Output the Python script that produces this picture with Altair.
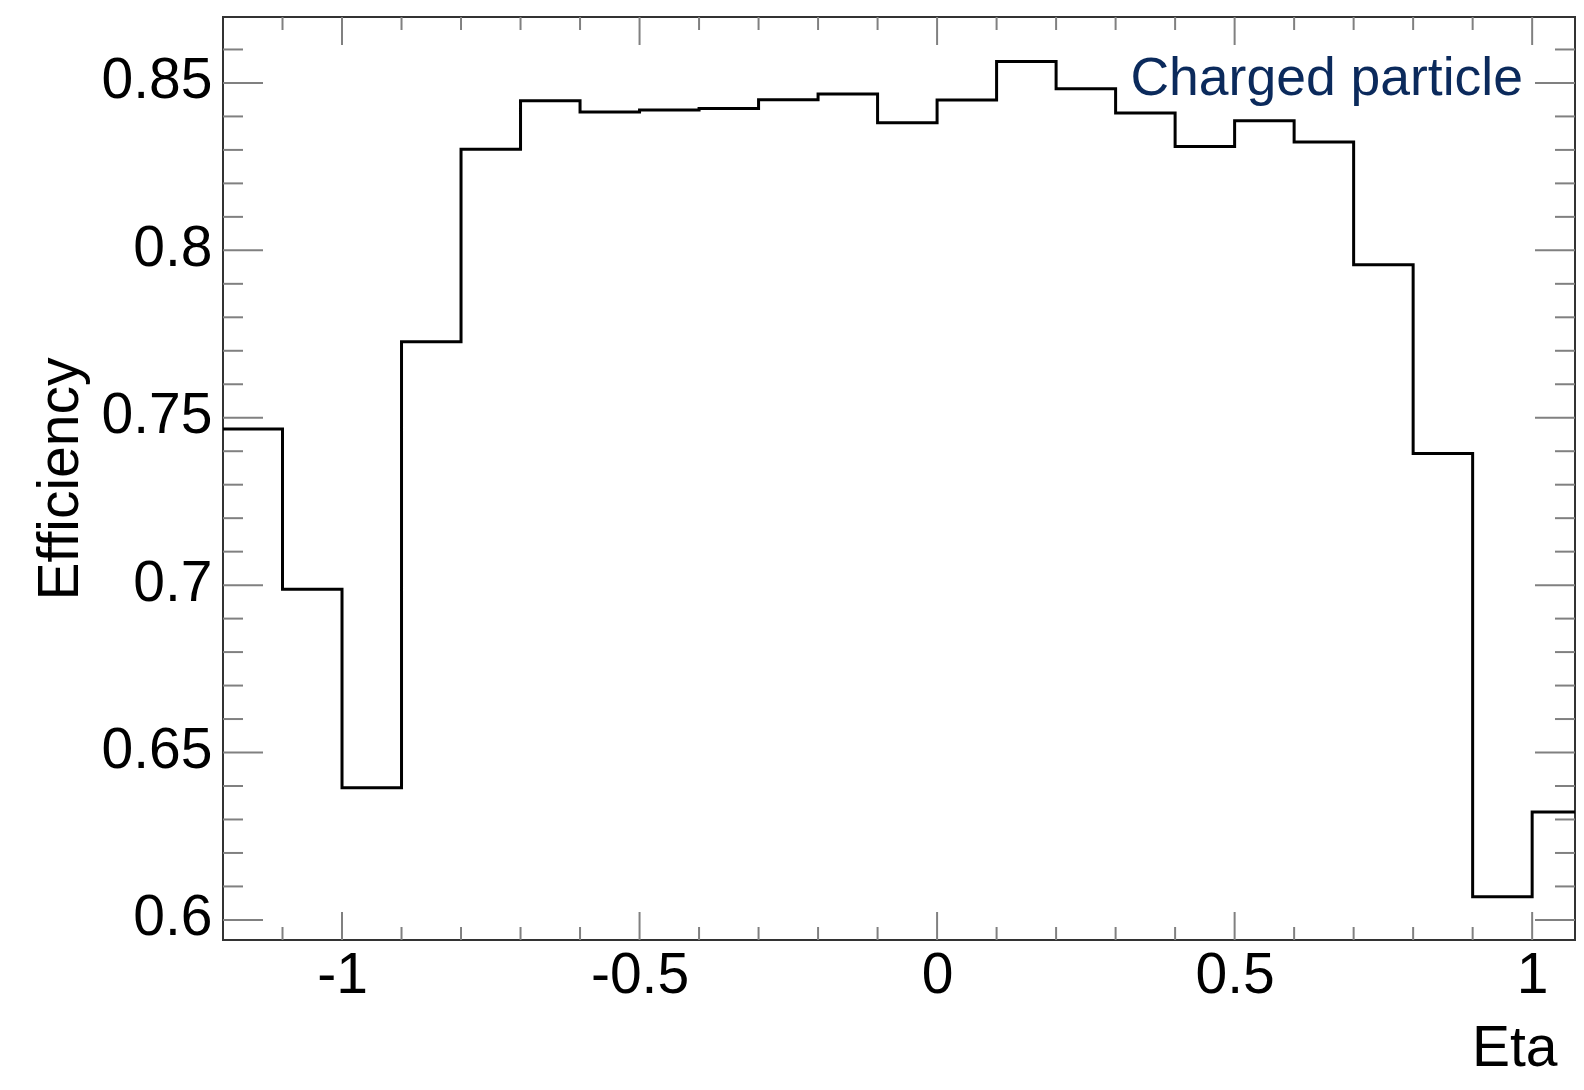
import altair as alt
import pandas as pd

# ---- data ----
bin_low = [-1.2, -1.1, -1.0, -0.9, -0.8, -0.7, -0.6, -0.5, -0.4, -0.3, -0.2, -0.1,
           0.0, 0.1, 0.2, 0.3, 0.4, 0.5, 0.6, 0.7, 0.8, 0.9, 1.0]
efficiency = [0.7466, 0.6988, 0.6395, 0.7727, 0.8302, 0.8447, 0.8413, 0.8419,
              0.8424, 0.8450, 0.8467, 0.8381, 0.8449, 0.8564, 0.8483, 0.8410,
              0.8310, 0.8387, 0.8324, 0.7957, 0.7393, 0.6069, 0.6322]
bin_width = 0.1

x_major_ticks = [-1.0, -0.5, 0.0, 0.5, 1.0]
x_minor_ticks = [-1.1, -0.9, -0.8, -0.7, -0.6, -0.4, -0.3, -0.2, -0.1,
                 0.1, 0.2, 0.3, 0.4, 0.6, 0.7, 0.8, 0.9]
y_major_ticks = [0.6, 0.65, 0.7, 0.75, 0.8, 0.85]
y_minor_ticks = [0.61, 0.62, 0.63, 0.64, 0.66, 0.67, 0.68, 0.69,
                 0.71, 0.72, 0.73, 0.74, 0.76, 0.77, 0.78, 0.79,
                 0.81, 0.82, 0.83, 0.84, 0.86]

x_domain = [-1.2, 1.072]
y_domain = [0.594, 0.8697]

legend_text = "Charged particle"
x_title = "Eta"
y_title = "Efficiency"

# ---- layout / style ----
W, H = 1352, 923
FONT = "Liberation Sans"
TICK = "#808080"

step_x = bin_low + [round(bin_low[-1] + bin_width, 3)]
step_y = efficiency + [efficiency[-1]]
hist_df = pd.DataFrame({"eta": step_x, "eff": step_y})

xs = alt.Scale(domain=x_domain, nice=False, zero=False)
ys = alt.Scale(domain=y_domain, nice=False, zero=False)

x_axis = alt.Axis(values=x_major_ticks, labelExpr="datum.value + ''", ticks=False, tickSize=0,
                  domain=False, grid=False, labelFontSize=57, labelColor="black",
                  labelBaseline="alphabetic", labelPadding=52, labelFlush=False,
                  labelOverlap=False, title=x_title, titleFontSize=57,
                  titleFontWeight="normal", titleColor="black", titleX=1334, titleY=125,
                  titleAlign="right", titleBaseline="alphabetic")
y_axis = alt.Axis(values=y_major_ticks, labelExpr="datum.value + ''", ticks=False, tickSize=0,
                  domain=False, grid=False, labelFontSize=57, labelColor="black",
                  labelBaseline="alphabetic", labelOffset=15, labelPadding=11,
                  labelFlush=False, labelOverlap=False, title=y_title, titleFontSize=57,
                  titleFontWeight="normal", titleColor="black", titleX=-146,
                  titleY=H / 2, titleAngle=270, titleAlign="center",
                  titleBaseline="alphabetic")

X = alt.X("eta:Q", scale=xs, axis=x_axis)
Y = alt.Y("eff:Q", scale=ys, axis=y_axis)

xmin_df = pd.DataFrame({"eta": x_minor_ticks})
xmaj_df = pd.DataFrame({"eta": x_major_ticks})
ymin_df = pd.DataFrame({"eff": y_minor_ticks})
ymaj_df = pd.DataFrame({"eff": y_major_ticks})

def xticks(df, length):
    base = alt.Chart(df).mark_rule(color=TICK, strokeWidth=2)
    return [base.encode(x=X, y=alt.value(H), y2=alt.value(H - length)),
            base.encode(x=X, y=alt.value(0), y2=alt.value(length))]

def yticks(df, length):
    base = alt.Chart(df).mark_rule(color=TICK, strokeWidth=2)
    return [base.encode(y=Y, x=alt.value(0), x2=alt.value(length)),
            base.encode(y=Y, x=alt.value(W), x2=alt.value(W - length))]

layers = []
layers += xticks(xmin_df, 13)
layers += xticks(xmaj_df, 28)
layers += yticks(ymin_df, 20)
layers += yticks(ymaj_df, 40)

hist = alt.Chart(hist_df).mark_line(interpolate="step-after", color="black",
                                    strokeWidth=3, clip=True).encode(x=X, y=Y)
layers.append(hist)

label = alt.Chart(pd.DataFrame({"t": [legend_text]})).mark_text(
    align="right", baseline="alphabetic", fontSize=53.5, font=FONT, color="#0b2a5c"
).encode(text="t:N", x=alt.value(1300), y=alt.value(78))
layers.append(label)

chart = alt.layer(*layers).properties(
    width=W, height=H,
    autosize=alt.AutoSizeParams(type="none"),
    padding={"left": 215, "top": 9, "right": 1, "bottom": 138},
).configure_view(stroke="#333333", strokeWidth=2).configure_axis(
    labelFont=FONT, titleFont=FONT)

chart.save("out.html", embed_options={"renderer": "svg", "actions": False})
